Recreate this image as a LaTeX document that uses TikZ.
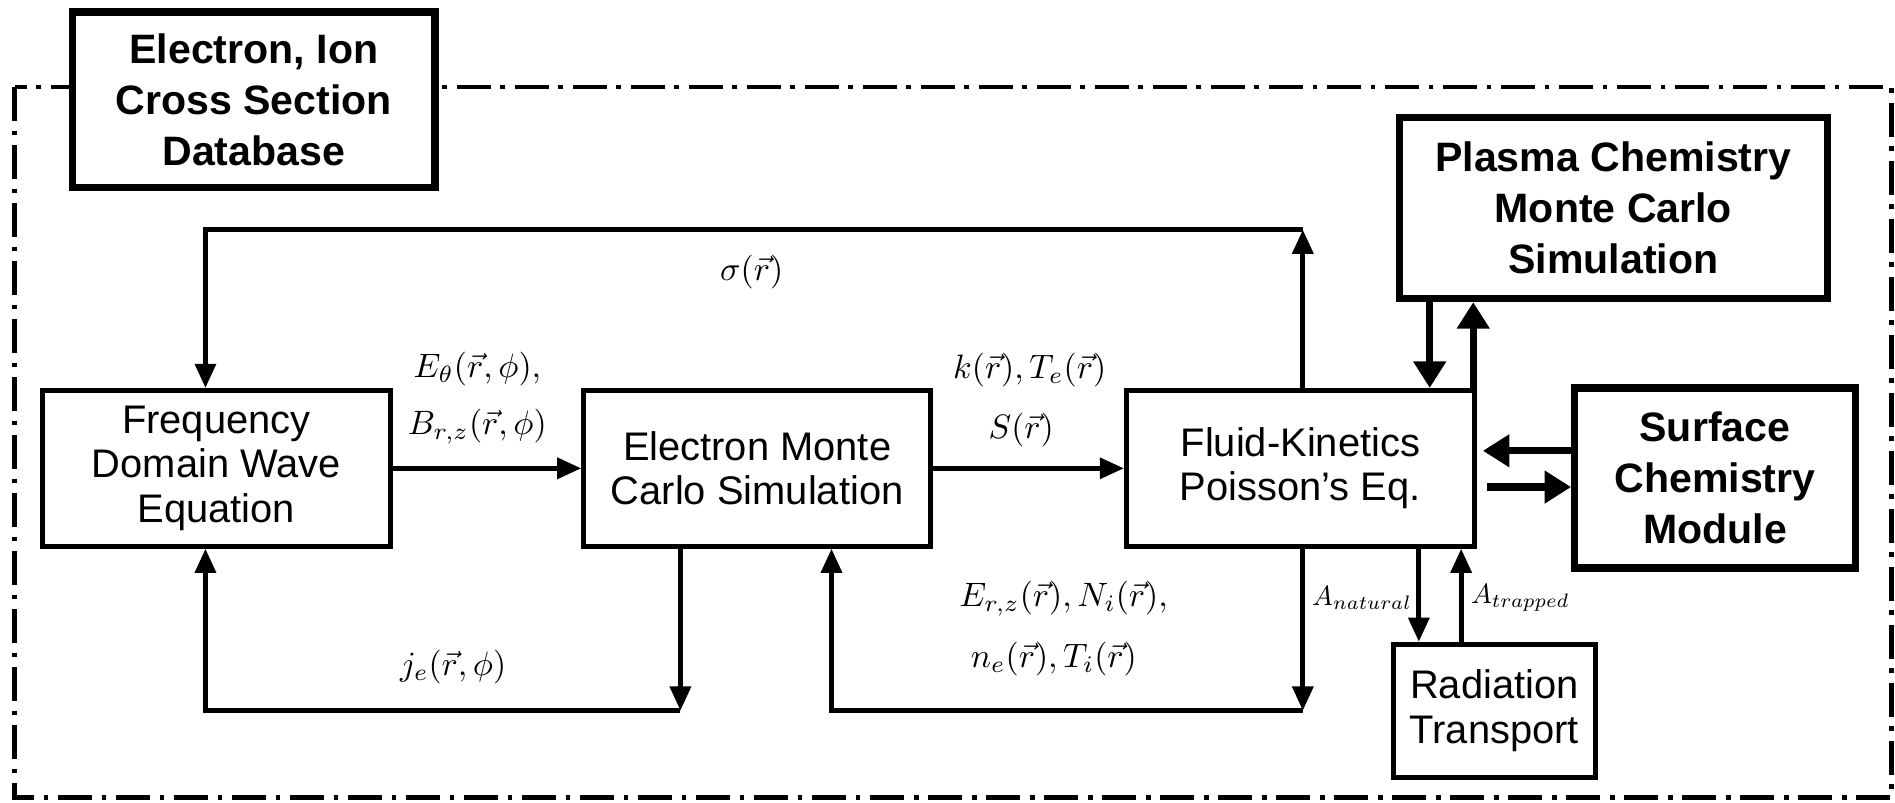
\documentclass[tikz,border=0pt]{standalone}
\usepackage{graphicx}
\usepackage{fontspec}
\setmainfont{Liberation Sans}
\usetikzlibrary{arrows.meta}
\newcommand{\mlbl}[1]{\scalebox{2.8}{$#1$}}
\newcommand{\slb}[1]{\scalebox{2.3}{$#1$}}
\begin{document}
\begin{tikzpicture}[x=1pt,y=-1pt,
  plainbox/.style={draw, line width=4pt, fill=white, align=center, inner sep=0pt,
    font=\fontsize{33}{37}\selectfont},
  boldbox/.style={draw, line width=6pt, fill=white, align=center, inner sep=0pt,
    font=\fontsize{34}{42}\selectfont\bfseries},
  arr/.style={line width=4pt, -{Triangle[length=20pt,width=17pt]}},
  tarr/.style={line width=6pt, -{Triangle[length=22pt,width=26pt]}},
  lbl/.style={inner sep=0pt},
  framestyle/.style={line width=4pt, dash pattern=on 28pt off 8pt on 4pt off 8pt}
]
\useasboundingbox (0,0) rectangle (1568,664);
% outer frame
\draw[framestyle] (12,72) rectangle (1565,660);

% boxes
\node[boldbox, minimum width=300pt, minimum height=145pt] (db) at (210,82.5)
  {Electron, Ion\\Cross Section\\Database};
\node[plainbox, minimum width=288pt, minimum height=129pt] (freq) at (179,387.5)
  {Frequency\\Domain Wave\\Equation};
\node[plainbox, minimum width=287pt, minimum height=129pt] (emc) at (626.5,387.5)
  {Electron Monte\\Carlo Simulation};
\node[plainbox, minimum width=288pt, minimum height=129pt] (fk) at (1076,387.5)
  {Fluid-Kinetics\\Poisson's Eq.};
\node[boldbox, minimum width=354pt, minimum height=150pt] (pc) at (1335,172)
  {Plasma Chemistry\\Monte Carlo\\Simulation};
\node[boldbox, minimum width=232pt, minimum height=149pt] (sc) at (1419,395.5)
  {Surface\\Chemistry\\Module};
\node[plainbox, minimum width=167pt, minimum height=110pt] (rt) at (1236.5,588)
  {Radiation\\Transport};

% helper coordinates
\coordinate (s1) at (1078,190);
\coordinate (s2) at (170,190);
\coordinate (j1) at (563,588);
\coordinate (j2) at (170,588);
\coordinate (e1) at (1078,588);
\coordinate (e2) at (688,588);
\coordinate (p1) at (1183,0);
\coordinate (p2) at (1219,0);
\coordinate (q1) at (1227,373);
\coordinate (q2) at (1230,403);
\coordinate (r1) at (1174,0);
\coordinate (r2) at (1209,0);

% connectors
\draw[arr] (freq.east) -- (emc.west);
\draw[arr] (emc.east) -- (fk.west);
\draw[arr] (s1 |- fk.north) -- (s1);
\draw[arr] (s1) -- (s2) -- (s2 |- freq.north);
\draw[arr] (j1 |- emc.south) -- (j1);
\draw[arr] (j1) -- (j2) -- (j2 |- freq.south);
\draw[arr] (e1 |- fk.south) -- (e1);
\draw[arr] (e1) -- (e2) -- (e2 |- emc.south);
\draw[tarr] (pc.south -| p1) -- (fk.north -| p1);
\draw[tarr] (fk.north -| p2) -- (pc.south -| p2);
\draw[tarr] (sc.west |- q1) -- (q1);
\draw[tarr] (q2) -- (sc.west |- q2);
\draw[arr] (fk.south -| r1) -- (rt.north -| r1);
\draw[arr] (rt.north -| r2) -- (fk.south -| r2);

% labels
\node[lbl] (l1) at (395,305) {\mlbl{E_\theta(\vec r,\phi),}};
\node[lbl] (l2) at (395,353) {\mlbl{B_{r,z}(\vec r,\phi)}};
\node[lbl] (l3) at (852,306) {\mlbl{k(\vec r), T_e(\vec r)}};
\node[lbl] (l4) at (845,356) {\mlbl{S(\vec r)}};
\node[lbl] (l5) at (622,225) {\mlbl{\sigma(\vec r)}};
\node[lbl] (l6) at (375,552) {\mlbl{j_e(\vec r,\phi)}};
\node[lbl] (l7) at (880,495) {\mlbl{E_{r,z}(\vec r), N_i(\vec r),}};
\node[lbl] (l8) at (872,545) {\mlbl{n_e(\vec r), T_i(\vec r)}};
\node[lbl] (l9) at (1127,495) {\slb{A_{natural}}};
\node[lbl] (l10) at (1258,495) {\slb{A_{trapped}}};
\end{tikzpicture}
\end{document}
